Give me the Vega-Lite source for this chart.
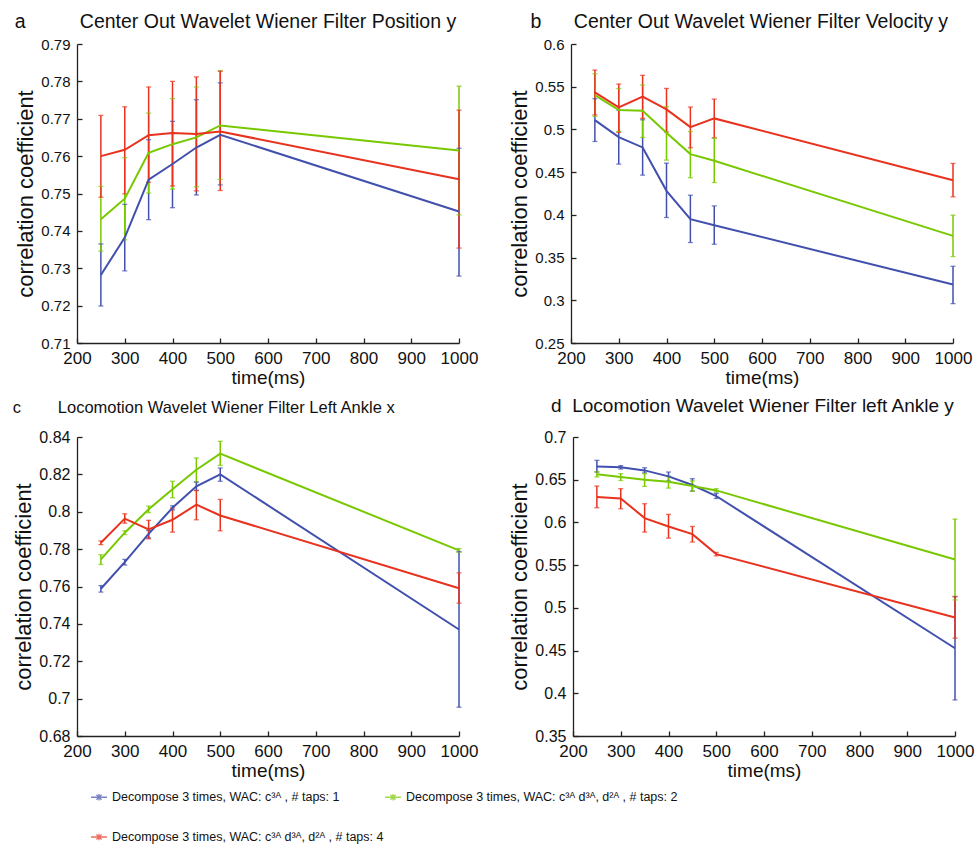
{
  "$schema": "https://vega.github.io/schema/vega-lite/v6.json",
  "padding": {"left": 12, "top": 11, "right": 2, "bottom": 2},
  "background": "white",
  "config": {
    "view": {"stroke": null},
    "font": "Liberation Sans",
    "axis": {
      "grid": false,
      "domainColor": "#222222",
      "domainWidth": 1.3,
      "tickColor": "#222222",
      "tickWidth": 1.3,
      "tickSize": -5,
      "labelPadding": 12,
      "labelColor": "#111111",
      "titleColor": "#111111",
      "labelFont": "Liberation Sans",
      "titleFont": "Liberation Sans",
      "titleFontWeight": "normal",
      "labelFlush": false,
      "labelOverlap": false
    },
    "axisX": {"labelFontSize": 17, "titleFontSize": 19, "titlePadding": 2},
    "axisY": {"titleFontSize": 22, "titlePadding": 3},
    "title": {"font": "Liberation Sans", "fontWeight": "normal", "color": "#111111", "anchor": "start", "frame": "bounds"}
  },
  "datasets": {
    "d": [
      {"p":"a","s":"t1","x":250,"y":0.7282,"lo":0.7199,"hi":0.7365},
      {"p":"a","s":"t1","x":300,"y":0.7382,"lo":0.7293,"hi":0.7471},
      {"p":"a","s":"t1","x":350,"y":0.7537,"lo":0.743,"hi":0.7644},
      {"p":"a","s":"t1","x":400,"y":0.7579,"lo":0.7462,"hi":0.7693},
      {"p":"a","s":"t1","x":450,"y":0.7623,"lo":0.7496,"hi":0.7751},
      {"p":"a","s":"t1","x":500,"y":0.7657,"lo":0.7523,"hi":0.7796},
      {"p":"a","s":"t1","x":1000,"y":0.7452,"lo":0.7279,"hi":0.7621},
      {"p":"a","s":"t2","x":250,"y":0.7431,"lo":0.7346,"hi":0.7519},
      {"p":"a","s":"t2","x":300,"y":0.7486,"lo":0.7376,"hi":0.7596},
      {"p":"a","s":"t2","x":350,"y":0.7609,"lo":0.7501,"hi":0.7715},
      {"p":"a","s":"t2","x":400,"y":0.7632,"lo":0.7512,"hi":0.7754},
      {"p":"a","s":"t2","x":450,"y":0.765,"lo":0.7518,"hi":0.7785},
      {"p":"a","s":"t2","x":500,"y":0.7682,"lo":0.7538,"hi":0.7829},
      {"p":"a","s":"t2","x":1000,"y":0.7615,"lo":0.7443,"hi":0.7787},
      {"p":"a","s":"t4","x":250,"y":0.760,"lo":0.749,"hi":0.7709},
      {"p":"a","s":"t4","x":300,"y":0.7617,"lo":0.7499,"hi":0.7732},
      {"p":"a","s":"t4","x":350,"y":0.7656,"lo":0.753,"hi":0.7785},
      {"p":"a","s":"t4","x":400,"y":0.7662,"lo":0.752,"hi":0.780},
      {"p":"a","s":"t4","x":450,"y":0.7659,"lo":0.7507,"hi":0.7812},
      {"p":"a","s":"t4","x":500,"y":0.7666,"lo":0.7508,"hi":0.7827},
      {"p":"a","s":"t4","x":1000,"y":0.7538,"lo":0.7354,"hi":0.7723},

      {"p":"b","s":"t1","x":250,"y":0.5109,"lo":0.4859,"hi":0.5359},
      {"p":"b","s":"t1","x":300,"y":0.491,"lo":0.4594,"hi":0.5226},
      {"p":"b","s":"t1","x":350,"y":0.4789,"lo":0.4465,"hi":0.5113},
      {"p":"b","s":"t1","x":400,"y":0.4281,"lo":0.3969,"hi":0.4605},
      {"p":"b","s":"t1","x":450,"y":0.3949,"lo":0.3676,"hi":0.423},
      {"p":"b","s":"t1","x":500,"y":0.3879,"lo":0.3656,"hi":0.4105},
      {"p":"b","s":"t1","x":1000,"y":0.3184,"lo":0.2961,"hi":0.3398},
      {"p":"b","s":"t2","x":250,"y":0.5402,"lo":0.5152,"hi":0.5652},
      {"p":"b","s":"t2","x":300,"y":0.5227,"lo":0.4977,"hi":0.5477},
      {"p":"b","s":"t2","x":350,"y":0.5219,"lo":0.4906,"hi":0.552},
      {"p":"b","s":"t2","x":400,"y":0.4961,"lo":0.4641,"hi":0.5266},
      {"p":"b","s":"t2","x":450,"y":0.4711,"lo":0.4434,"hi":0.4975},
      {"p":"b","s":"t2","x":500,"y":0.4633,"lo":0.4379,"hi":0.4895},
      {"p":"b","s":"t2","x":1000,"y":0.3754,"lo":0.3512,"hi":0.3996},
      {"p":"b","s":"t4","x":250,"y":0.5434,"lo":0.517,"hi":0.5695},
      {"p":"b","s":"t4","x":300,"y":0.5258,"lo":0.4965,"hi":0.5531},
      {"p":"b","s":"t4","x":350,"y":0.5383,"lo":0.5129,"hi":0.5633},
      {"p":"b","s":"t4","x":400,"y":0.5234,"lo":0.497,"hi":0.548},
      {"p":"b","s":"t4","x":450,"y":0.5027,"lo":0.4785,"hi":0.5262},
      {"p":"b","s":"t4","x":500,"y":0.5129,"lo":0.4902,"hi":0.5355},
      {"p":"b","s":"t4","x":1000,"y":0.4406,"lo":0.4211,"hi":0.4602},

      {"p":"c","s":"t1","x":250,"y":0.7588,"lo":0.757,"hi":0.7605},
      {"p":"c","s":"t1","x":300,"y":0.773,"lo":0.7715,"hi":0.7745},
      {"p":"c","s":"t1","x":350,"y":0.7882,"lo":0.786,"hi":0.790},
      {"p":"c","s":"t1","x":400,"y":0.8021,"lo":0.801,"hi":0.8032},
      {"p":"c","s":"t1","x":450,"y":0.8136,"lo":0.8114,"hi":0.8159},
      {"p":"c","s":"t1","x":500,"y":0.82,"lo":0.8163,"hi":0.8234},
      {"p":"c","s":"t1","x":1000,"y":0.737,"lo":0.6954,"hi":0.7787},
      {"p":"c","s":"t2","x":250,"y":0.7745,"lo":0.7718,"hi":0.777},
      {"p":"c","s":"t2","x":300,"y":0.7888,"lo":0.7878,"hi":0.7898},
      {"p":"c","s":"t2","x":350,"y":0.8013,"lo":0.7995,"hi":0.803},
      {"p":"c","s":"t2","x":400,"y":0.812,"lo":0.8075,"hi":0.8163},
      {"p":"c","s":"t2","x":450,"y":0.8225,"lo":0.8159,"hi":0.8288},
      {"p":"c","s":"t2","x":500,"y":0.8311,"lo":0.8248,"hi":0.8377},
      {"p":"c","s":"t2","x":1000,"y":0.7793,"lo":0.7783,"hi":0.7803},
      {"p":"c","s":"t4","x":250,"y":0.7834,"lo":0.7824,"hi":0.7844},
      {"p":"c","s":"t4","x":300,"y":0.7963,"lo":0.7939,"hi":0.7989},
      {"p":"c","s":"t4","x":350,"y":0.7905,"lo":0.7855,"hi":0.7954},
      {"p":"c","s":"t4","x":400,"y":0.7957,"lo":0.7891,"hi":0.802},
      {"p":"c","s":"t4","x":450,"y":0.8038,"lo":0.7957,"hi":0.8114},
      {"p":"c","s":"t4","x":500,"y":0.798,"lo":0.7898,"hi":0.8066},
      {"p":"c","s":"t4","x":1000,"y":0.7591,"lo":0.7511,"hi":0.7673},

      {"p":"d","s":"t1","x":250,"y":0.6656,"lo":0.659,"hi":0.6727},
      {"p":"d","s":"t1","x":300,"y":0.6645,"lo":0.6625,"hi":0.6665},
      {"p":"d","s":"t1","x":350,"y":0.6609,"lo":0.658,"hi":0.664},
      {"p":"d","s":"t1","x":400,"y":0.6539,"lo":0.6484,"hi":0.659},
      {"p":"d","s":"t1","x":450,"y":0.6438,"lo":0.6367,"hi":0.6512},
      {"p":"d","s":"t1","x":500,"y":0.6309,"lo":0.628,"hi":0.634},
      {"p":"d","s":"t1","x":1000,"y":0.4527,"lo":0.3922,"hi":0.513},
      {"p":"d","s":"t2","x":250,"y":0.6563,"lo":0.6533,"hi":0.6593},
      {"p":"d","s":"t2","x":300,"y":0.6531,"lo":0.6491,"hi":0.6571},
      {"p":"d","s":"t2","x":350,"y":0.65,"lo":0.6422,"hi":0.657},
      {"p":"d","s":"t2","x":400,"y":0.6477,"lo":0.6402,"hi":0.654},
      {"p":"d","s":"t2","x":450,"y":0.6426,"lo":0.6366,"hi":0.6486},
      {"p":"d","s":"t2","x":500,"y":0.6375,"lo":0.6355,"hi":0.6395},
      {"p":"d","s":"t2","x":1000,"y":0.5566,"lo":0.5093,"hi":0.6039},
      {"p":"d","s":"t4","x":250,"y":0.6297,"lo":0.6172,"hi":0.6426},
      {"p":"d","s":"t4","x":300,"y":0.6281,"lo":0.616,"hi":0.6395},
      {"p":"d","s":"t4","x":350,"y":0.6051,"lo":0.5887,"hi":0.6219},
      {"p":"d","s":"t4","x":400,"y":0.5953,"lo":0.5816,"hi":0.6094},
      {"p":"d","s":"t4","x":450,"y":0.5863,"lo":0.577,"hi":0.5953},
      {"p":"d","s":"t4","x":500,"y":0.5629,"lo":0.5609,"hi":0.5649},
      {"p":"d","s":"t4","x":1000,"y":0.4887,"lo":0.4645,"hi":0.5133}
    ]
  },
  "resolve": {"scale": {"color": "shared"}, "legend": {"color": "shared"}},
  "vconcat": [
    {
      "spacing": 30,
      "hconcat": [
        {
          "width": 382, "height": 299,
          "title": {"text": "a\u00a0\u00a0\u00a0\u00a0\u00a0\u00a0\u00a0\u00a0\u00a0\u00a0Center Out Wavelet Wiener Filter Position y", "fontSize": 19.5, "offset": 5},
          "data": {"name": "d"},
          "transform": [{"filter": "datum.p === 'a'"}],
          "encoding": {
            "x": {"field": "x", "type": "quantitative", "scale": {"domain": [200, 1000], "nice": false, "zero": false}, "axis": {"values": [200,300,400,500,600,700,800,900,1000], "format": "d", "title": "time(ms)"}},
            "color": {"field": "s", "type": "nominal", "scale": {"domain": ["t1","t2","t4"], "range": ["#4150ad","#78c800","#e8321e"]},
              "legend": {"orient": "none", "direction": "horizontal", "legendX": 13, "legendY": 744, "columns": 2, "columnPadding": -26, "rowPadding": 24, "title": null, "padding": 0,
                "labelFont": "Liberation Sans", "labelFontSize": 12.5, "labelColor": "#111111", "labelLimit": 400, "labelOffset": 4,
                "symbolType": "M-1,0H1M0,-0.42V0.42M-0.32,-0.32L0.32,0.32M-0.32,0.32L0.32,-0.32", "symbolSize": 256, "symbolStrokeWidth": 1.3, "symbolFillColor": "transparent",
                "labelExpr": "datum.value === 't1' ? 'Decompose 3 times, WAC: c³ᴬ , # taps: 1' : datum.value === 't2' ? 'Decompose 3 times, WAC: c³ᴬ d³ᴬ, d²ᴬ , # taps: 2' : 'Decompose 3 times, WAC: c³ᴬ d³ᴬ, d²ᴬ , # taps: 4'"}}
          },
          "layer": [
            {"mark": {"type": "rule", "strokeWidth": 1.5}, "encoding": {"y": {"field": "lo", "type": "quantitative", "scale": {"domain": [0.71, 0.79], "nice": false, "zero": false}, "title": "correlation coefficient", "axis": {"values": [0.71,0.72,0.73,0.74,0.75,0.76,0.77,0.78,0.79], "format": ".2~f", "labelFontSize": 15}}, "y2": {"field": "hi"}}},
            {"mark": {"type": "tick", "orient": "horizontal", "size": 5, "thickness": 1.3}, "encoding": {"y": {"field": "lo", "type": "quantitative", "title": "correlation coefficient", "axis": {"values": [0.71,0.72,0.73,0.74,0.75,0.76,0.77,0.78,0.79], "format": ".2~f", "labelFontSize": 15}}}},
            {"mark": {"type": "tick", "orient": "horizontal", "size": 5, "thickness": 1.3}, "encoding": {"y": {"field": "hi", "type": "quantitative", "title": "correlation coefficient", "axis": {"values": [0.71,0.72,0.73,0.74,0.75,0.76,0.77,0.78,0.79], "format": ".2~f", "labelFontSize": 15}}}},
            {"mark": {"type": "line", "strokeWidth": 2}, "encoding": {"y": {"field": "y", "type": "quantitative", "title": "correlation coefficient", "axis": {"values": [0.71,0.72,0.73,0.74,0.75,0.76,0.77,0.78,0.79], "format": ".2~f", "labelFontSize": 15}}}}
          ]
        },
        {
          "width": 382, "height": 299,
          "title": {"text": "\u200b\u00a0\u00a0\u00a0\u00a0b\u00a0\u00a0\u00a0\u00a0\u00a0\u00a0Center Out Wavelet Wiener Filter Velocity y", "fontSize": 19.5, "offset": 5},
          "data": {"name": "d"},
          "transform": [{"filter": "datum.p === 'b'"}],
          "encoding": {
            "x": {"field": "x", "type": "quantitative", "scale": {"domain": [200, 1000], "nice": false, "zero": false}, "axis": {"values": [200,300,400,500,600,700,800,900,1000], "format": "d", "title": "time(ms)"}},
            "color": {"field": "s", "type": "nominal"}
          },
          "layer": [
            {"mark": {"type": "rule", "strokeWidth": 1.5}, "encoding": {"y": {"field": "lo", "type": "quantitative", "scale": {"domain": [0.25, 0.6], "nice": false, "zero": false}, "title": "correlation coefficient", "axis": {"values": [0.25,0.3,0.35,0.4,0.45,0.5,0.55,0.6], "format": ".2~f", "labelFontSize": 15}}, "y2": {"field": "hi"}}},
            {"mark": {"type": "tick", "orient": "horizontal", "size": 5, "thickness": 1.3}, "encoding": {"y": {"field": "lo", "type": "quantitative", "title": "correlation coefficient", "axis": {"values": [0.25,0.3,0.35,0.4,0.45,0.5,0.55,0.6], "format": ".2~f", "labelFontSize": 15}}}},
            {"mark": {"type": "tick", "orient": "horizontal", "size": 5, "thickness": 1.3}, "encoding": {"y": {"field": "hi", "type": "quantitative", "title": "correlation coefficient", "axis": {"values": [0.25,0.3,0.35,0.4,0.45,0.5,0.55,0.6], "format": ".2~f", "labelFontSize": 15}}}},
            {"mark": {"type": "line", "strokeWidth": 2}, "encoding": {"y": {"field": "y", "type": "quantitative", "title": "correlation coefficient", "axis": {"values": [0.25,0.3,0.35,0.4,0.45,0.5,0.55,0.6], "format": ".2~f", "labelFontSize": 15}}}}
          ]
        }
      ]
    },
    {
      "spacing": 30,
      "hconcat": [
        {
          "width": 382, "height": 299,
          "title": {"text": "c\u00a0\u00a0\u00a0\u00a0\u00a0\u00a0\u00a0\u00a0Locomotion Wavelet Wiener Filter Left Ankle x", "fontSize": 16.5, "offset": 13},
          "data": {"name": "d"},
          "transform": [{"filter": "datum.p === 'c'"}],
          "encoding": {
            "x": {"field": "x", "type": "quantitative", "scale": {"domain": [200, 1000], "nice": false, "zero": false}, "axis": {"values": [200,300,400,500,600,700,800,900,1000], "format": "d", "title": "time(ms)"}},
            "color": {"field": "s", "type": "nominal"}
          },
          "layer": [
            {"mark": {"type": "rule", "strokeWidth": 1.5}, "encoding": {"y": {"field": "lo", "type": "quantitative", "scale": {"domain": [0.68, 0.84], "nice": false, "zero": false}, "title": "correlation coefficient", "axis": {"values": [0.68,0.7,0.72,0.74,0.76,0.78,0.8,0.82,0.84], "format": ".2~f", "labelFontSize": 16}}, "y2": {"field": "hi"}}},
            {"mark": {"type": "tick", "orient": "horizontal", "size": 5, "thickness": 1.3}, "encoding": {"y": {"field": "lo", "type": "quantitative", "title": "correlation coefficient", "axis": {"values": [0.68,0.7,0.72,0.74,0.76,0.78,0.8,0.82,0.84], "format": ".2~f", "labelFontSize": 16}}}},
            {"mark": {"type": "tick", "orient": "horizontal", "size": 5, "thickness": 1.3}, "encoding": {"y": {"field": "hi", "type": "quantitative", "title": "correlation coefficient", "axis": {"values": [0.68,0.7,0.72,0.74,0.76,0.78,0.8,0.82,0.84], "format": ".2~f", "labelFontSize": 16}}}},
            {"mark": {"type": "line", "strokeWidth": 2}, "encoding": {"y": {"field": "y", "type": "quantitative", "title": "correlation coefficient", "axis": {"values": [0.68,0.7,0.72,0.74,0.76,0.78,0.8,0.82,0.84], "format": ".2~f", "labelFontSize": 16}}}}
          ]
        },
        {
          "width": 382, "height": 299,
          "title": {"text": "\u200b\u00a0\u00a0\u00a0\u00a0\u00a0\u00a0\u00a0\u00a0d\u00a0\u00a0Locomotion Wavelet Wiener Filter left Ankle y", "fontSize": 19, "offset": 13},
          "data": {"name": "d"},
          "transform": [{"filter": "datum.p === 'd'"}],
          "encoding": {
            "x": {"field": "x", "type": "quantitative", "scale": {"domain": [200, 1000], "nice": false, "zero": false}, "axis": {"values": [200,300,400,500,600,700,800,900,1000], "format": "d", "title": "time(ms)"}},
            "color": {"field": "s", "type": "nominal"}
          },
          "layer": [
            {"mark": {"type": "rule", "strokeWidth": 1.5}, "encoding": {"y": {"field": "lo", "type": "quantitative", "scale": {"domain": [0.35, 0.7], "nice": false, "zero": false}, "title": "correlation coefficient", "axis": {"values": [0.35,0.4,0.45,0.5,0.55,0.6,0.65,0.7], "format": ".2~f", "labelFontSize": 16}}, "y2": {"field": "hi"}}},
            {"mark": {"type": "tick", "orient": "horizontal", "size": 5, "thickness": 1.3}, "encoding": {"y": {"field": "lo", "type": "quantitative", "title": "correlation coefficient", "axis": {"values": [0.35,0.4,0.45,0.5,0.55,0.6,0.65,0.7], "format": ".2~f", "labelFontSize": 16}}}},
            {"mark": {"type": "tick", "orient": "horizontal", "size": 5, "thickness": 1.3}, "encoding": {"y": {"field": "hi", "type": "quantitative", "title": "correlation coefficient", "axis": {"values": [0.35,0.4,0.45,0.5,0.55,0.6,0.65,0.7], "format": ".2~f", "labelFontSize": 16}}}},
            {"mark": {"type": "line", "strokeWidth": 2}, "encoding": {"y": {"field": "y", "type": "quantitative", "title": "correlation coefficient", "axis": {"values": [0.35,0.4,0.45,0.5,0.55,0.6,0.65,0.7], "format": ".2~f", "labelFontSize": 16}}}}
          ]
        }
      ]
    }
  ],
  "spacing": 10
}
